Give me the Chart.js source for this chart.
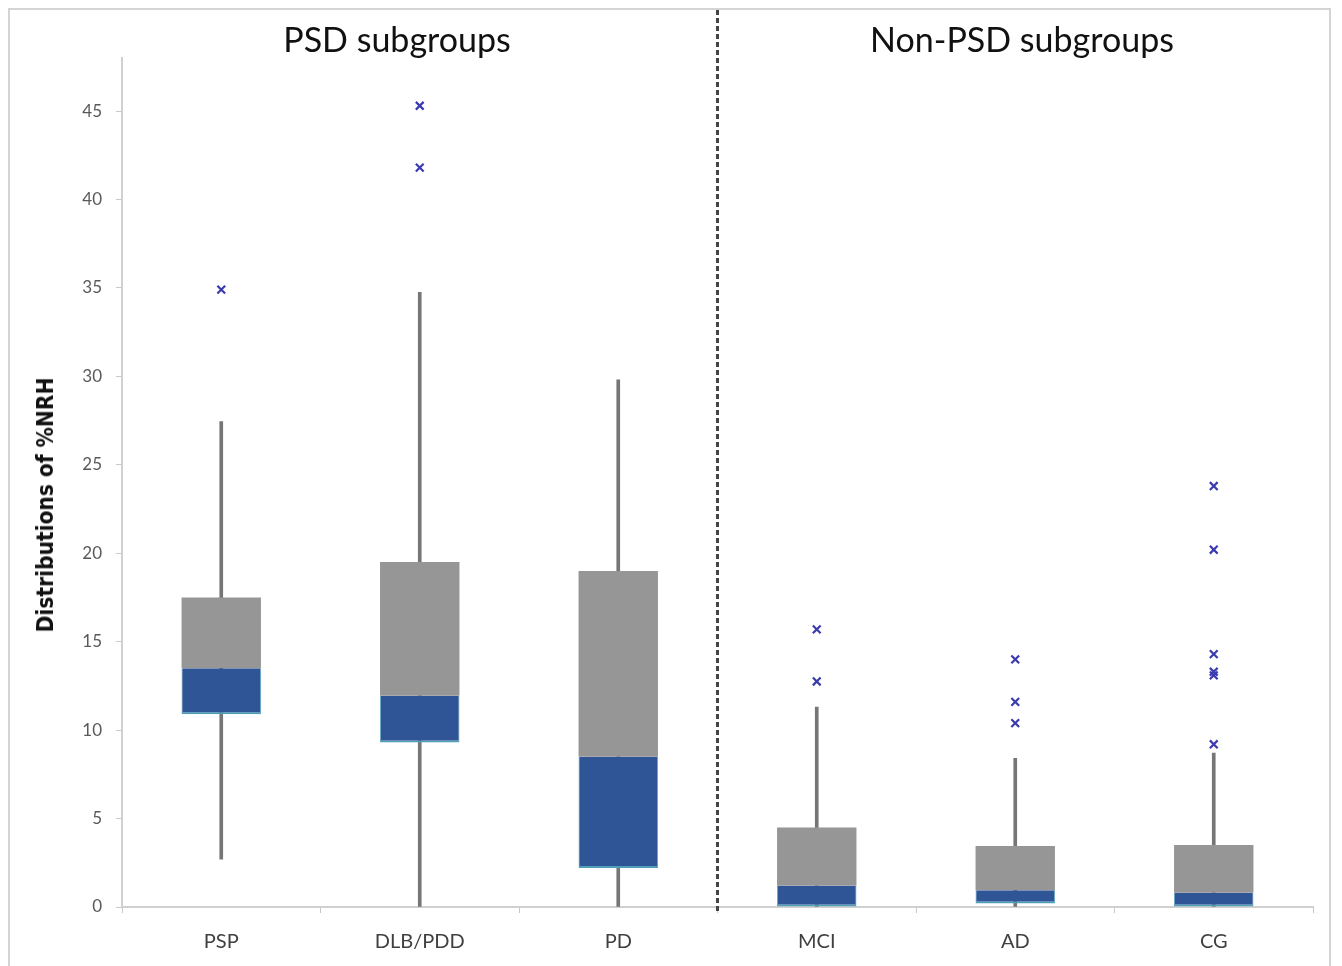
<!DOCTYPE html>
<html>
<head>
<meta charset="utf-8">
<script src="https://cdn.jsdelivr.net/npm/chart.js@4.4.1/dist/chart.umd.min.js"></script>
<style>
  html, body { margin: 0; padding: 0; background: #fff; }
  #wrap { position: relative; width: 1342px; height: 966px; }
  #frame { position: absolute; left: 8px; top: 8px; width: 1323px; height: 970px; border: 2px solid #d4d4d4; box-sizing: border-box; }
  .grp { position: absolute; top: 18px; font-family: Lato, "Open Sans", sans-serif; font-size: 34px; color: #111; transform: translateX(-50%); white-space: nowrap; }
  #ytitle { position: absolute; left: 45px; top: 505px; transform: translate(-50%, -50%) rotate(-90deg); font-family: "Liberation Sans Narrow", "DejaVu Sans Condensed", sans-serif; font-weight: bold; font-size: 22.5px; color: #111; white-space: nowrap; }
  canvas { position: absolute; left: 0; top: 0; }
</style>
</head>
<body>
<div id="wrap">
  <div id="frame"></div>
  <canvas id="myChart" width="1342" height="966"></canvas>
  <div class="grp" style="left:397px">PSD subgroups</div>
  <div class="grp" style="left:1022px">Non-PSD subgroups</div>
  <div id="ytitle">Distributions of %NRH</div>
</div>
<script>
// categorias y valores
const groups = ["PSP", "DLB/PDD", "PD", "MCI", "AD", "CG"];
const whiskerLow  = [2.7, 0, 0, 0, 0, 0];
const q1          = [10.9, 9.3, 2.2, 0, 0.2, 0];
const median      = [13.5, 11.95, 8.5, 1.2, 0.95, 0.8];
const q3          = [17.5, 19.5, 19.0, 4.5, 3.45, 3.5];
const whiskerHigh = [27.45, 34.75, 29.8, 11.3, 8.4, 8.7];
const outliers = {
  "PSP": [34.9],
  "DLB/PDD": [45.3, 41.8],
  "PD": [],
  "MCI": [15.7, 12.75],
  "AD": [14.0, 11.6, 10.4],
  "CG": [23.8, 20.2, 14.3, 13.3, 13.1, 9.2]
};
const yTicks = [0, 5, 10, 15, 20, 25, 30, 35, 40, 45];

const ctx = document.getElementById("myChart");

let outlierPoints = [];
groups.forEach(g => outliers[g].forEach(v => outlierPoints.push({ x: g, y: v })));

// linea discontinua entre PSD y no-PSD
const dividerPlugin = {
  id: "divider",
  afterDatasetsDraw(chart) {
    const x = chart.scales.x;
    const px = (x.getPixelForTick(2) + x.getPixelForTick(3)) / 2;
    const c = chart.ctx;
    c.save();
    c.strokeStyle = "#444";
    c.lineWidth = 3;
    c.setLineDash([5, 3]);
    c.beginPath();
    c.moveTo(px, 10);
    c.lineTo(px, chart.chartArea.bottom + 6);
    c.stroke();
    c.restore();
  }
};

var myChart = new Chart(ctx, {
  type: "bar",
  data: {
    labels: groups,
    datasets: [
      {
        type: "line",
        label: "outliers",
        data: outlierPoints,
        showLine: false,
        pointStyle: "crossRot",
        pointRadius: 5.5,
        pointBorderWidth: 2.2,
        pointBorderColor: "#3b3bb0",
        pointBackgroundColor: "#3b3bb0",
        order: 1
      },
      {
        label: "Q1-median",
        data: groups.map((g, i) => [q1[i], median[i]]),
        backgroundColor: "#2f5597",
        borderColor: "#4f9fb8",
        borderWidth: { left: 0.8, right: 0.8, bottom: 2, top: 0 },
        borderSkipped: false,
        grouped: false,
        categoryPercentage: 1,
        barPercentage: 0.4,
        order: 2
      },
      {
        label: "median-Q3",
        data: groups.map((g, i) => [median[i], q3[i]]),
        backgroundColor: "#969696",
        borderWidth: 0,
        grouped: false,
        categoryPercentage: 1,
        barPercentage: 0.4,
        order: 2
      },
      {
        label: "whiskers",
        data: groups.map((g, i) => [whiskerLow[i], whiskerHigh[i]]),
        backgroundColor: "#767676",
        borderWidth: 0,
        grouped: false,
        barThickness: 3,
        order: 3
      }
    ]
  },
  options: {
    responsive: false,
    animation: false,
    layout: { padding: { left: 0, top: 58, right: 29, bottom: 0 } },
    plugins: {
      legend: { display: false },
      tooltip: { enabled: false }
    },
    scales: {
      x: {
        type: "category",
        offset: true,
        afterFit: s => { s.height = 59; },
        border: { color: "#d0d0d0", width: 2 },
        grid: { offset: true, drawOnChartArea: false, drawTicks: true, tickLength: 6, color: "#c8c8c8" },
        ticks: { color: "#404040", padding: 17, font: { family: "Lato, 'Open Sans', sans-serif", size: 20 } }
      },
      y: {
        min: 0,
        max: 48,
        afterFit: s => { s.width = 122; },
        afterBuildTicks: s => { s.ticks = yTicks.map(v => ({ value: v })); },
        border: { color: "#d0d0d0", width: 2 },
        grid: { drawOnChartArea: false, drawTicks: true, tickLength: 6, color: "#c8c8c8" },
        ticks: { color: "#595959", padding: 14, font: { family: "Lato, 'Open Sans', sans-serif", size: 17 } }
      }
    }
  },
  plugins: [dividerPlugin]
});
</script>
</body>
</html>
